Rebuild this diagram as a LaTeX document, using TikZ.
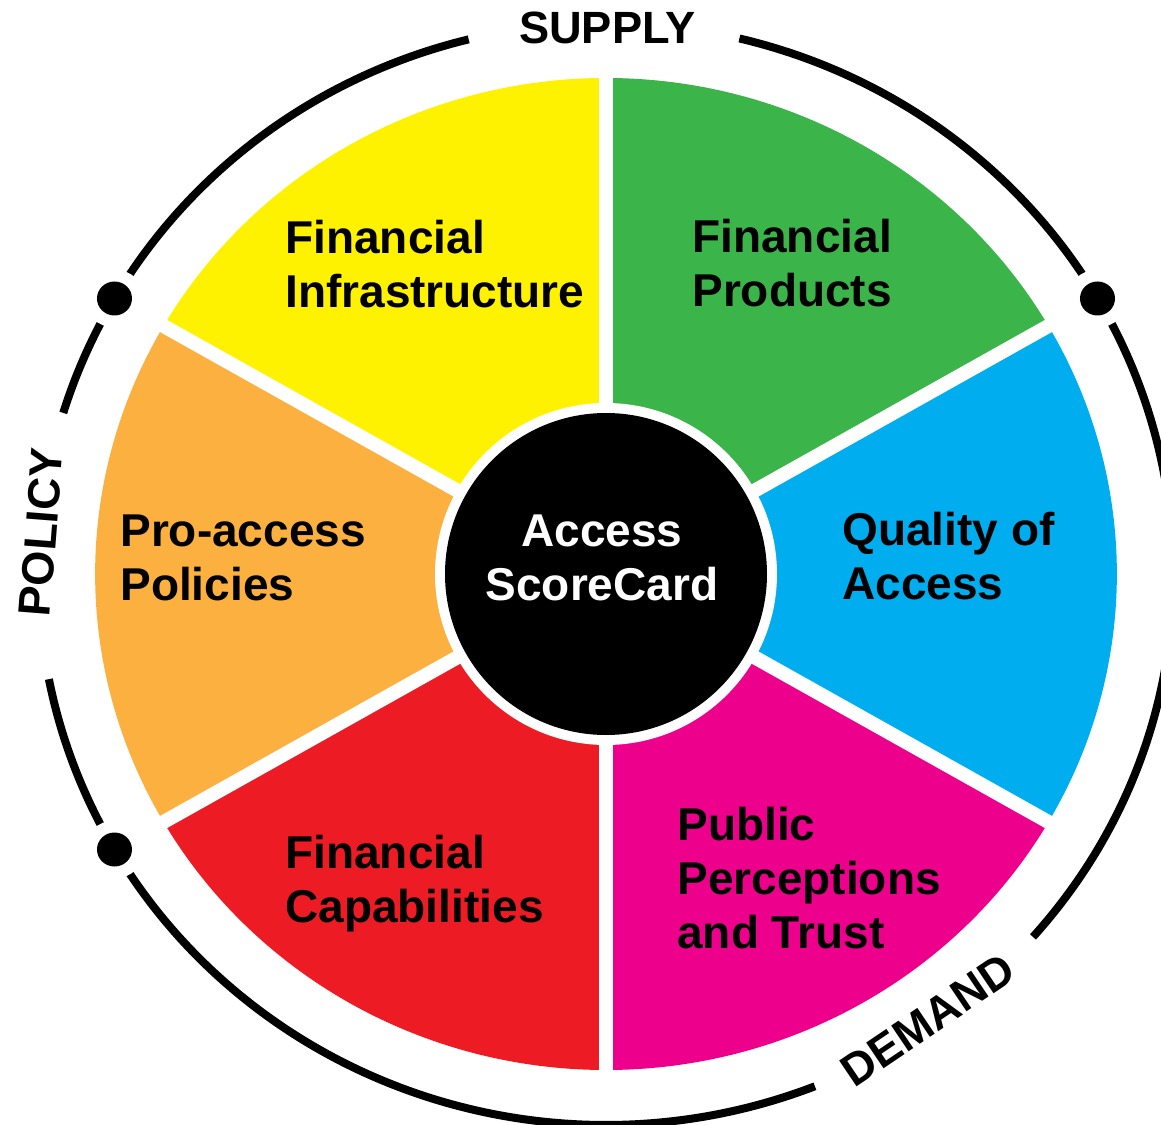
\documentclass[tikz,border=0pt]{standalone}
\usepackage{fontspec}
\setmainfont{Liberation Sans}
\definecolor{wyellow}{HTML}{FFF200}
\definecolor{wgreen}{HTML}{3BB54A}
\definecolor{wblue}{HTML}{00AEEF}
\definecolor{wpink}{HTML}{EC008C}
\definecolor{wred}{HTML}{ED1C24}
\definecolor{worange}{HTML}{FBB040}
\tikzset{
  seglabel/.style={font=\fontsize{23}{27}\selectfont\bfseries, align=left, anchor=base west, inner sep=0pt},
  ringlabel/.style={font=\fontsize{22.6}{26}\selectfont\bfseries, inner sep=0pt},
  ringline/.style={line width=4pt},
  gapline/.style={white, line width=7pt}
}
\begin{document}
\begin{tikzpicture}[x=0.5pt,y=0.5pt]
\useasboundingbox (-606,-550) rectangle (555,574);
\begin{scope}[xscale=1.03]
% wedges
\foreach \a/\c in {90/wyellow,150/worange,210/wred,270/wpink,330/wblue,30/wgreen}
  \fill[\c] (0,0) -- (\a:496) arc[start angle=\a, delta angle=60, radius=496] -- cycle;
% white gaps between wedges
\foreach \a in {30,90,...,330}
  \draw[gapline] (0,0) -- (\a:520);
% outer ring
\draw[ringline] (104:551) arc[start angle=104, end angle=163, radius=551];
\draw[ringline] (191:551) arc[start angle=191, end angle=291.6, radius=551];
\draw[ringline] (-41.2:551) arc[start angle=-41.2, end angle=76.4, radius=551];
\foreach \a in {30,150,210}{
  \fill[white] (\a:551) circle (29);
  \fill[black] (\a:551) circle (17);
}
\end{scope}
% centre
\fill[white] (0,0) circle (171);
\fill[black] (0,0) circle (161);
\node[seglabel, white, align=center, anchor=base] (scorecard) at (-4,-26) {Access\\ScoreCard};
% segment labels
\node[seglabel] (infra) at (-321,266) {Financial\\Infrastructure};
\node[seglabel] (products) at (86,267) {Financial\\Products};
\node[seglabel] (proaccess) at (-486,-26) {Pro-access\\Policies};
\node[seglabel] (quality) at (236,-25) {Quality of\\Access};
\node[seglabel] (capab) at (-321,-348) {Financial\\Capabilities};
\node[seglabel] (public) at (71,-374) {Public\\Perceptions\\and Trust};
% ring labels
\node[ringlabel] (supply) at (1.5,546) {SUPPLY};
\node[ringlabel, rotate=85.5] (policy) at (-565,42) {POLICY};
\node[ringlabel, rotate=34] (demand) at (322,-446) {DEMAND};
\end{tikzpicture}
\end{document}
